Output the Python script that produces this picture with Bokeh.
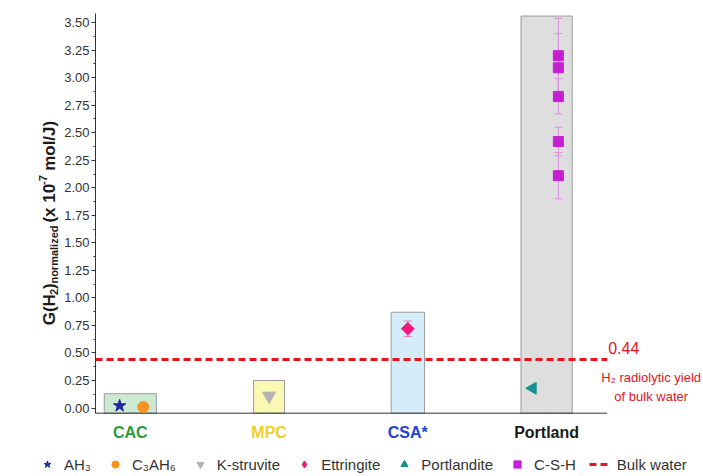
import math
from bokeh.plotting import figure
from bokeh.layouts import column, row
from bokeh.core.properties import value
from bokeh.models import (ColumnDataSource, Label, LabelSet, Legend, LegendItem,
                          SingleIntervalTicker, NumeralTickFormatter, Range1d)
from bokeh.embed import file_html
from bokeh.resources import INLINE

# ---------------- data ----------------
cements = ["CAC", "MPC", "CSA*", "Portland"]
bar_tops = [0.13, 0.25, 0.87, 3.56]

ah3 = [0.02]            # CAC
c3ah6 = [0.01]          # CAC
k_struvite = [0.11]     # MPC
ettringite = [0.72]     # CSA*
ettringite_err = [0.07]
portlandite = [0.18]    # Portland
csh = [3.20, 3.09, 2.83, 2.42, 2.11]   # Portland
csh_err = [0.34, 0.31, 0.16, 0.13, 0.21]
bulk_water = 0.44

legend_labels = ["AH\u2083", "C\u2083AH\u2086", "K-struvite", "Ettringite", "Portlandite", "C-S-H", "Bulk water"]
y_tick_interval = 0.25

# ---------------- styles ----------------
FONT = "Liberation Sans"
bar_fills = ["#cce9d2", "#fbf8b4", "#d5ecfb", "#dedede"]
label_colors = ["#2e9a3c", "#f0cf28", "#2342d6", "#1a1a1a"]
bar_widths = [0.376, 0.223, 0.24, 0.369]
RED = "#e8131b"
AXIS = "#333333"
STYLE = {
    "AH3": dict(marker="star", size=13, fill_color="#1b2a9e", line_color="#1b2a9e"),
    "C3AH6": dict(marker="circle", size=11, fill_color="#f7931e", line_color="#f7931e"),
    "KS": dict(marker="inverted_triangle", size=13, fill_color="#b3b3b3", line_color="#b3b3b3"),
    "ET": dict(marker="square", size=9, angle=math.pi / 4, fill_color="#f5167e", line_color="#f5167e"),
    "PT": dict(marker="triangle", size=12, angle=math.pi / 2, fill_color="#17908e", line_color="#17908e"),
    "CSH": dict(marker="square", size=10, fill_color="#c61fd3", line_color="#c61fd3"),
}
LEGEND_MARKER = {"ET": "diamond"}
LINE_STYLE = dict(line_color=RED, line_width=3, line_dash="7 4")

TITLE_W, TOP_H, LEG_H = 61, 452, 24
MAIN_W = 703 - TITLE_W
X_START, X_END, X_AXIS_END = -0.251, 4.131, 3.437
Y_START, Y_END, Y_AXIS = -0.404, 3.583, -0.047

idx = list(range(len(cements)))

# sources (shared by the chart and the legend strip)
src = {
    "AH3": ColumnDataSource(dict(x=[idx[0] - 0.077] * len(ah3), y=ah3)),
    "C3AH6": ColumnDataSource(dict(x=[idx[0] + 0.093] * len(c3ah6), y=c3ah6)),
    "KS": ColumnDataSource(dict(x=[idx[1]] * len(k_struvite), y=k_struvite)),
    "ET": ColumnDataSource(dict(x=[idx[2]] * len(ettringite), y=ettringite,
                                lo=[v - e for v, e in zip(ettringite, ettringite_err)],
                                hi=[v + e for v, e in zip(ettringite, ettringite_err)])),
    "PT": ColumnDataSource(dict(x=[idx[3] - 0.1] * len(portlandite), y=portlandite)),
    "CSH": ColumnDataSource(dict(x=[idx[3] + 0.085] * len(csh), y=csh,
                                 lo=[v - e for v, e in zip(csh, csh_err)],
                                 hi=[v + e for v, e in zip(csh, csh_err)])),
}
bulk_src = ColumnDataSource(dict(x=[X_START, X_AXIS_END], y=[bulk_water, bulk_water]))

# ---------------- main chart ----------------
p = figure(width=MAIN_W, height=TOP_H, output_backend="svg", toolbar_location=None,
           x_range=Range1d(X_START, X_END), y_range=Range1d(Y_START, Y_END),
           x_axis_location=None,
           min_border_left=32, min_border_right=0, min_border_top=13, min_border_bottom=0)
p.outline_line_color = None
p.grid.visible = False

yax = p.yaxis[0]
yax.bounds = (Y_AXIS, Y_END)
yax.ticker = SingleIntervalTicker(interval=y_tick_interval, num_minor_ticks=2)
yax.formatter = NumeralTickFormatter(format="0.00")
yax.major_label_text_font = FONT
yax.major_label_text_font_size = "13px"
yax.major_label_text_color = AXIS
yax.axis_line_color = AXIS
yax.major_tick_line_color = AXIS
yax.minor_tick_line_color = AXIS
yax.major_tick_out = 4
yax.major_tick_in = 0
yax.minor_tick_out = 2
yax.minor_tick_in = 0
yax.major_label_standoff = 2

bar_src = ColumnDataSource(dict(x=idx, top=bar_tops, fill=bar_fills, w=bar_widths))
p.vbar(x="x", top="top", bottom=Y_AXIS, width="w", source=bar_src,
       fill_color="fill", line_color="#9c9c9c", line_width=1)

# x axis line (the reference's x axis has no ticks or labels)
p.line([X_START, X_AXIS_END], [Y_AXIS, Y_AXIS], line_color=AXIS, line_width=1)

# bulk water reference line
p.line("x", "y", source=bulk_src, **LINE_STYLE)

# error bars
for key, col in (("ET", "#f07ab0"), ("CSH", "#db8ee3")):
    s = src[key]
    p.segment(x0="x", y0="lo", x1="x", y1="hi", source=s, line_color=col, line_width=1)
    p.scatter(x="x", y="lo", source=s, marker="dash", size=8, line_color=col, line_width=1)
    p.scatter(x="x", y="hi", source=s, marker="dash", size=8, line_color=col, line_width=1)

# markers
for key in ("AH3", "C3AH6", "KS", "ET", "PT", "CSH"):
    p.scatter("x", "y", source=src[key], **STYLE[key])

# category labels under the axis line
cat_src = ColumnDataSource(dict(x=idx, y=[Y_AXIS] * len(idx), text=cements, color=label_colors))
p.add_layout(LabelSet(x="x", y="y", text="text", source=cat_src, y_offset=-19,
                      text_align="center", text_baseline="middle", text_color="color",
                      text_font=value(FONT), text_font_size=value("16px"),
                      text_font_style="bold"))

# bulk water annotations
p.add_layout(Label(x=X_AXIS_END, y=bulk_water, x_offset=1, y_offset=12, text=f"{bulk_water:.2f}",
                   text_color=RED, text_font=FONT, text_font_size="16px",
                   text_align="left", text_baseline="middle"))
p.add_layout(Label(x=X_AXIS_END, y=bulk_water, x_offset=44, y_offset=-18,
                   text="H\u2082 radiolytic yield", text_color=RED, text_font=FONT,
                   text_font_size="13px", text_align="center", text_baseline="middle"))
p.add_layout(Label(x=X_AXIS_END, y=bulk_water, x_offset=44, y_offset=-37,
                   text="of bulk water", text_color=RED, text_font=FONT,
                   text_font_size="13px", text_align="center", text_baseline="middle"))

# ---------------- y axis title (rotated, with sub/superscripts) ----------------
t = figure(width=TITLE_W, height=TOP_H, output_backend="svg", toolbar_location=None,
           x_range=Range1d(0, TITLE_W), y_range=Range1d(0, TOP_H),
           x_axis_type=None, y_axis_type=None,
           min_border_left=0, min_border_right=0, min_border_top=0, min_border_bottom=0)
t.outline_line_color = None
t.grid.visible = False

BOLD_W = {'G': .778, '(': .333, 'H': .722, ')': .333, ' ': .278, 'x': .556, '1': .556, '0': .556,
          'm': .889, 'o': .611, 'l': .278, '/': .278, 'J': .556, '2': .556, '-': .333, '7': .556,
          'n': .611, 'r': .389, 'a': .556, 'i': .278, 'z': .5, 'e': .556, 'd': .611}
BIG, SMALL = 17, 11
pieces = [("G(H", BIG, 0, 0), ("2", SMALL, 4, 0), (")", BIG, 0, 0), ("normalized", SMALL, 4, 0),
          ("(x 10", BIG, 0, 1), ("-7", SMALL, -7, 0), ("mol/J)", BIG, 0, 1)]
base_x = 49
pos = 131.0
for text, size, shift, lead in pieces:
    pos += lead * BOLD_W[' '] * BIG
    t.add_layout(Label(x=base_x + shift, y=pos, text=text, angle=math.pi / 2,
                       text_align="left", text_baseline="alphabetic",
                       text_font=FONT, text_font_size=f"{size}px", text_font_style="bold",
                       text_color="#1a1a1a"))
    pos += sum(BOLD_W.get(c, .556) for c in text) * size

# ---------------- legend strip ----------------
lg = figure(width=703, height=LEG_H, output_backend="svg", toolbar_location=None,
            x_range=Range1d(X_START, X_END), y_range=Range1d(Y_START, Y_END),
            x_axis_type=None, y_axis_type=None,
            min_border_left=0, min_border_right=0, min_border_top=0, min_border_bottom=0)
lg.outline_line_color = None
lg.grid.visible = False
leg_renderers = []
for k in ("AH3", "C3AH6", "KS", "ET", "PT", "CSH"):
    st = dict(STYLE[k])
    st.pop("angle", None)
    st["marker"] = LEGEND_MARKER.get(k, st["marker"])
    leg_renderers.append(lg.scatter("x", "y", source=src[k], visible=False, **st))
leg_renderers.append(lg.line("x", "y", source=bulk_src, visible=False, **LINE_STYLE))
legend = Legend(items=[LegendItem(label=l, renderers=[r]) for l, r in zip(legend_labels, leg_renderers)],
                orientation="horizontal", location=(36, 3), click_policy="none",
                inactive_fill_alpha=0,
                border_line_color=None, background_fill_alpha=0, padding=0, margin=0,
                spacing=13, label_standoff=6, glyph_width=22, glyph_height=18, label_height=16,
                label_text_font=FONT, label_text_font_size="15px", label_text_color=AXIS)
lg.add_layout(legend)

layout = column(row(t, p), lg)
open("out.html", "w").write(file_html(layout, INLINE))
